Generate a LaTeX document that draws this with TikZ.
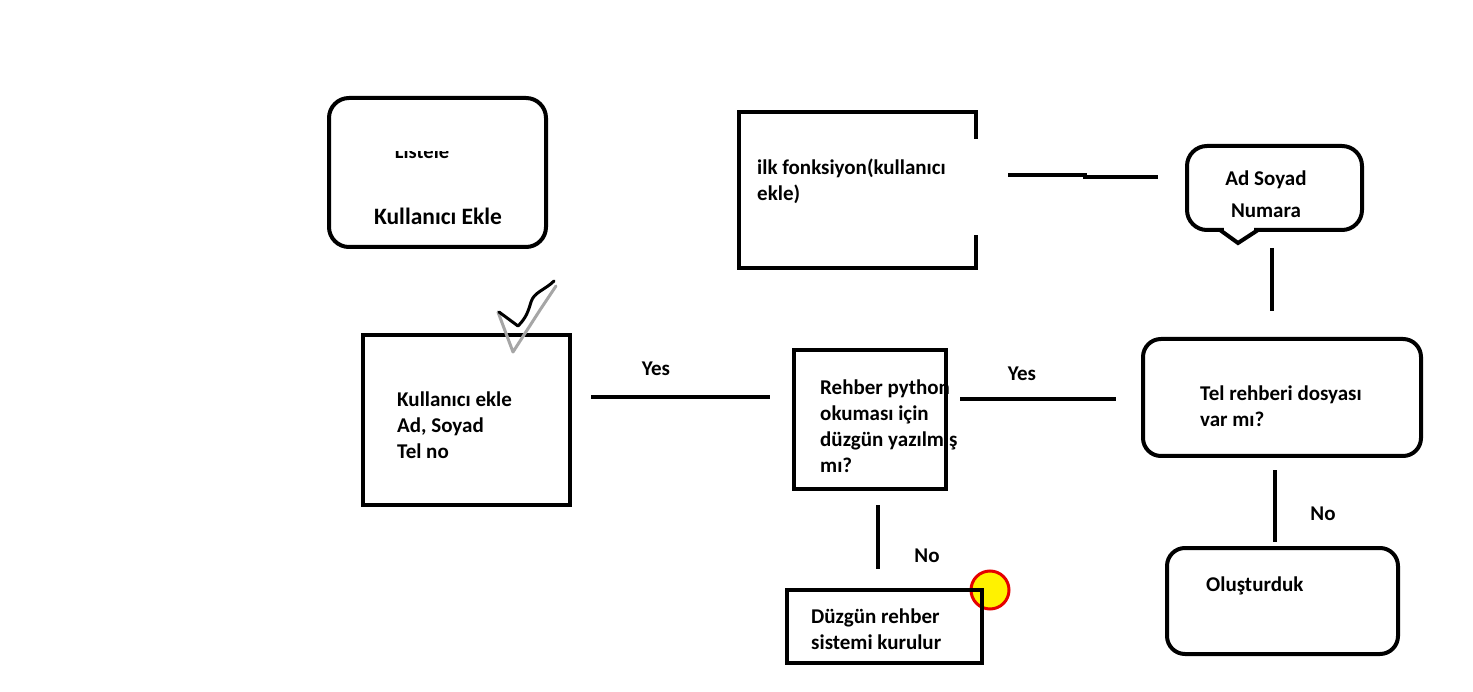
\documentclass[tikz,border=0pt]{standalone}
\usepackage{fontspec}
\setmainfont{Carlito}
\begin{document}
\begin{tikzpicture}[x=1pt,y=-1pt,
  lw/.style={line width=4pt},
  conn/.style={line width=4pt},
  rbox/.style={draw, line width=4pt, rounded corners=18pt, inner sep=0pt},
  sbox/.style={draw, line width=4pt, inner sep=0pt},
  txt/.style={font=\bfseries\fontsize{21}{26}\selectfont, align=left, inner sep=0pt},
  lbl/.style={font=\bfseries\fontsize{21}{24}\selectfont, inner sep=0pt}]
\useasboundingbox (0,0) rectangle (1473,692);
\fill[white] (0,0) rectangle (1473,692);

% Kullanici Ekle box
\draw[lw, rounded corners=20pt] (329,98) rectangle (546,247);
\node[font=\bfseries\fontsize{20.5}{24}\selectfont, inner sep=0pt, anchor=base] (listele) at (422,159) {Listele};
\fill[white] (380,128) rectangle (466,151);
\node[txt, font=\bfseries\fontsize{23.5}{26}\selectfont] (kekle) at (438,216) {Kullanıcı Ekle};

% ilk fonksiyon box (right side open in the middle)
\coordinate (f1) at (976,139);
\coordinate (f2) at (976,235);
\draw[lw] (f1) -- (976,112) -- (739,112) -- (739,268) -- (976,268) -- (f2);
\node[txt, anchor=west] (ilk) at (757,181.5) {ilk fonksiyon(kullanıcı\\ekle)};

% speech bubble
\draw[lw, rounded corners=20pt] (1187,146) rectangle (1362,230);
\fill[white] (1224,226) rectangle (1254,234);
\draw[lw, line join=miter] (1220,230) -- (1238,243) -- (1258,230);
\node[txt, align=center, font=\bfseries\fontsize{21}{32}\selectfont] (bubble) at (1266,194) {Ad Soyad\\Numara};

% connector from ilk fonksiyon to bubble
\coordinate (c1) at (1008,175);
\coordinate (c2) at (1158,177);
\draw[conn] (c1) -- (1085,175) -- (1085,177) -- (c2);

% connector bubble to tel rehberi
\coordinate (c3) at (1272,248);
\coordinate (c4) at (1272,311);
\draw[conn] (c3) -- (c4);

% Tel rehberi box
\node[rbox, minimum width=278pt, minimum height=117pt] (tel) at (1282,397.5) {};
\node[txt, anchor=west] (teltxt) at (1200,406.5) {Tel rehberi dosyası\\var mı?};

% connector tel -> olusturduk
\coordinate (c5) at (1275,470);
\coordinate (c6) at (1275,542);
\draw[conn] (c5) -- (c6);
\node[lbl] (no1) at (1323,514) {No};

% Olusturduk box
\node[rbox, minimum width=231pt, minimum height=106pt] (olus) at (1282.5,601) {};
\node[txt, anchor=west] (olustxt) at (1206,586) {Oluşturduk};

% Rehber python box (border drawn above text)
\node[txt, anchor=west] (rehtxt) at (820,426) {Rehber python\\okuması için\\düzgün yazılmış\\mı?};
\node[sbox, minimum width=152pt, minimum height=139pt] (reh) at (870,419.5) {};

% connector reh -> tel
\coordinate (c7) at (960,399);
\coordinate (c8) at (1116,399);
\draw[conn] (c7) -- (c8);
\node[lbl] (yes2) at (1022,374) {Yes};

% connector kullanici ekle -> reh
\coordinate (c9) at (591,397);
\coordinate (c10) at (770,397);
\draw[conn] (c9) -- (c10);
\node[lbl] (yes1) at (656,369) {Yes};

% Kullanici ekle box
\node[sbox, minimum width=207pt, minimum height=170pt] (kul) at (466.5,420) {};
\node[txt, anchor=west] (kultxt) at (397,425) {Kullanıcı ekle\\Ad, Soyad\\Tel no};

% checkmark
\draw[line width=3pt, gray!70, line join=round, line cap=round] (498,312) -- (513,352) -- (540,310) .. controls (548,298) .. (556,286);
\draw[line width=3pt, black, line join=round, line cap=round] (499,312) -- (518,326) .. controls (526,318) and (528,312) .. (531,302) .. controls (534,292) and (545,290) .. (554,281);

% connector reh -> duzgun
\coordinate (c11) at (878,505);
\coordinate (c12) at (878,569);
\draw[conn] (c11) -- (c12);
\node[lbl] (no2) at (927,556) {No};

% yellow marker
\draw[line width=3pt, red!90!black, fill=yellow] (990,590) circle (19pt);

% Duzgun rehber box
\node[sbox, minimum width=195pt, minimum height=73pt] (duz) at (884.5,626.5) {};
\node[txt, anchor=west] (duztxt) at (811,629) {Düzgün rehber\\sistemi kurulur};
\end{tikzpicture}
\end{document}
